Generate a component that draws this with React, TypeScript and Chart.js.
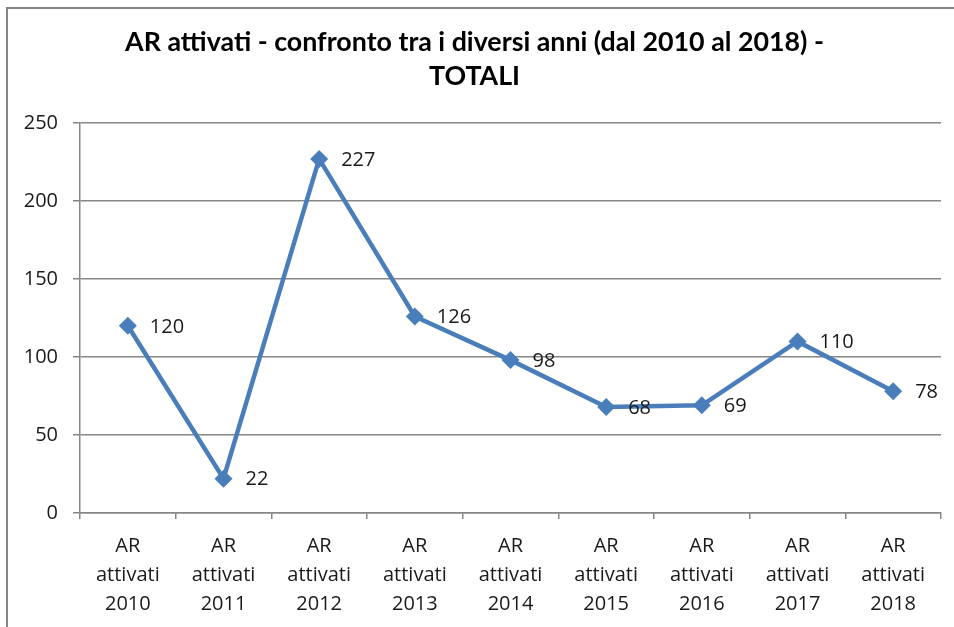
import React, { useEffect, useRef } from "react";
import { Chart, registerables } from "chart.js";

Chart.register(...registerables);

const titleLines = ["AR attivati - confronto tra i diversi anni (dal 2010 al 2018) -", "TOTALI"];
const years = ["2010", "2011", "2012", "2013", "2014", "2015", "2016", "2017", "2018"];
const categories = years.map((y) => ["AR", "attivati", y]);
const values = [120, 22, 227, 126, 98, 68, 69, 110, 78];
const yTicks = [0, 50, 100, 150, 200, 250];

const TITLE_FONT = "Lato, 'Open Sans', sans-serif";
const FONT = "'Open Sans', Lato, sans-serif";
const LINE_COLOR = "#4a7ebb";
const GRID = "#868686";

const labelPlugin = {
  id: "valueLabels",
  afterDatasetsDraw(chart: any) {
    const ctx = chart.ctx;
    const meta = chart.getDatasetMeta(0);
    ctx.save();
    ctx.font = `20px ${FONT}`;
    ctx.fillStyle = "#1a1a1a";
    ctx.textAlign = "left";
    ctx.textBaseline = "middle";
    meta.data.forEach((pt: any, i: number) => {
      ctx.fillText(String(values[i]), pt.x + 22, pt.y + 1);
    });
    ctx.restore();
  },
};

export default function App() {
  const ref = useRef<HTMLCanvasElement | null>(null);
  useEffect(() => {
    if (!ref.current) return;
    const chart = new Chart(ref.current, {
      type: "line",
      data: {
        labels: categories,
        datasets: [
          {
            data: values,
            borderColor: LINE_COLOR,
            backgroundColor: LINE_COLOR,
            borderWidth: 4.5,
            pointStyle: "rectRot",
            pointRadius: 9,
            pointBorderWidth: 0,
            pointBackgroundColor: LINE_COLOR,
            tension: 0,
          },
        ],
      },
      options: {
        responsive: false,
        animation: false,
        devicePixelRatio: 1,
        layout: { padding: { left: 8, right: 29, top: 0, bottom: 0 } },
        plugins: {
          legend: { display: false },
          tooltip: { enabled: false },
          title: {
            display: true,
            text: titleLines,
            color: "#000",
            font: { family: TITLE_FONT, size: 26.8, weight: "bold", lineHeight: 34 / 26.8 },
            padding: { top: 25, bottom: 30 },
          },
        },
        scales: {
          x: {
            offset: true,
            grid: {
              offset: true,
              drawOnChartArea: false,
              drawTicks: true,
              tickLength: 6,
              color: GRID,
              lineWidth: 1.5,
            },
            border: { display: true, color: GRID, width: 1.5 },
            ticks: {
              color: "#1a1a1a",
              font: { family: FONT, size: 20, lineHeight: 28.75 / 20 },
              padding: 13,
              maxRotation: 0,
              autoSkip: false,
            },
            afterFit(scale: any) {
              scale.height = 127;
            },
          },
          y: {
            min: 0,
            max: 250,
            afterBuildTicks(scale: any) {
              scale.ticks = yTicks.map((v) => ({ value: v }));
            },
            grid: {
              color: GRID,
              lineWidth: 1.5,
              tickLength: 7,
            },
            border: { display: true, color: GRID, width: 1.5 },
            ticks: {
              color: "#1a1a1a",
              font: { family: FONT, size: 20 },
              padding: 15,
            },
            afterFit(scale: any) {
              scale.width = 72;
            },
          },
        },
      },
      plugins: [labelPlugin],
    });
    return () => chart.destroy();
  }, []);

  return (
    <div
      style={{
        position: "absolute",
        left: 0,
        top: 0,
        width: 954,
        height: 627,
        overflow: "hidden",
        background: "#fff",
      }}
    >
      <canvas
        ref={ref}
        width={970}
        height={640}
        style={{ position: "absolute", left: 0, top: 0, width: 970, height: 640 }}
      />
      <div
        style={{
          position: "absolute",
          left: 6,
          top: 7,
          width: 980,
          height: 660,
          border: `2px solid ${GRID}`,
          boxSizing: "border-box",
          pointerEvents: "none",
        }}
      />
    </div>
  );
}
